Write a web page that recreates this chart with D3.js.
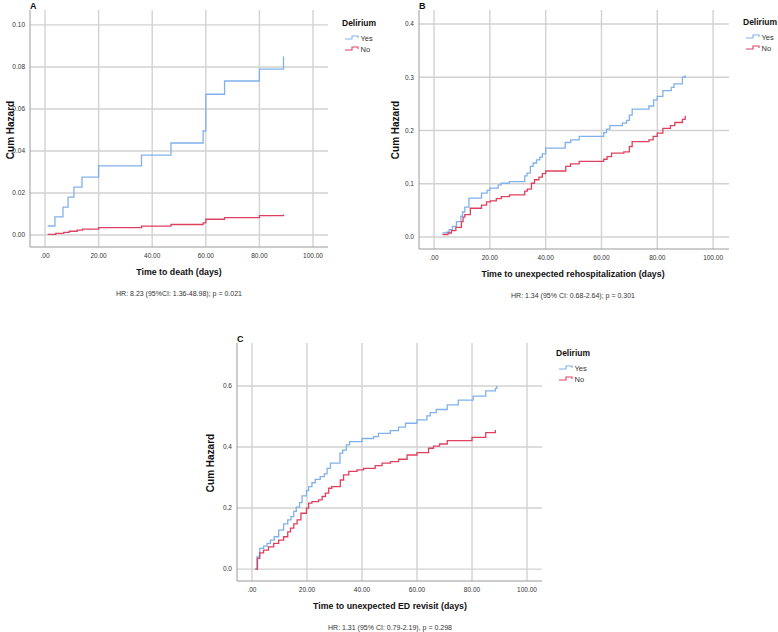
<!DOCTYPE html>
<html>
<head>
<meta charset="utf-8">
<script src="https://cdn.jsdelivr.net/npm/d3@7"></script>
<style>
  body { margin: 0; background: #fff; }
  svg { font-family: "Liberation Sans", Arial, sans-serif; }
  .grid line { stroke: #d2d2d2; stroke-width: 1.4; }
  .axisline { stroke: #9a9a9a; stroke-width: 1; }
  .tick-label { font-size: 6.5px; fill: #333; }
  .y-title { font-size: 10px; font-weight: bold; fill: #111; }
  .axis-title { font-size: 8.8px; font-weight: bold; fill: #111; }
  .caption { font-size: 7px; fill: #333; }
  .letter { font-size: 9px; font-weight: bold; fill: #111; }
  .leg-title { font-size: 8.5px; font-weight: bold; fill: #111; }
  .leg-item { font-size: 7.5px; fill: #333; }
</style>
</head>
<body>
<svg id="chart" width="778" height="632"></svg>
<script>
(function() {

  // Series colours.
  var yesColour = "#80b1ea";
  var noColour = "#e0405f";

  var groups = ["Yes", "No"];

  // Panel A: time to death.
  var aYesDays = [1, 3.7, 6.7, 8.6, 10.8, 13.8, 20, 36, 47, 59, 60, 67, 80, 89];
  var aYesHaz  = [0.0043, 0.0086, 0.0133, 0.018, 0.0228, 0.0276, 0.0329, 0.038, 0.0438, 0.0495, 0.067, 0.0733, 0.079, 0.085];
  var aNoDays  = [1, 4, 7, 9, 12, 14, 20, 36, 47, 59, 60, 67, 80, 89];
  var aNoHaz   = [0.0003, 0.0008, 0.0013, 0.0018, 0.0023, 0.0028, 0.0035, 0.0042, 0.005, 0.0058, 0.0075, 0.0083, 0.0092, 0.0098];
  var aYTicks  = [0, 0.02, 0.04, 0.06, 0.08, 0.10];

  // Panel B: unexpected rehospitalization.
  var bYesDays = [3, 4.4, 5.4, 6.6, 8, 9.6, 10.2, 11, 12.5, 17, 19, 20, 23, 24, 27, 32.5, 33.3, 34.5, 35.5, 36.7, 37.9, 38.8, 40, 47, 49, 52, 60.8, 61.8, 63, 67.5, 69, 70, 71, 77, 78.7, 80, 82, 85, 86, 89, 90];
  var bYesHaz  = [0.0075, 0.009, 0.014, 0.02, 0.029, 0.039, 0.047, 0.056, 0.073, 0.0825, 0.0875, 0.092, 0.098, 0.101, 0.104, 0.115, 0.12, 0.1325, 0.139, 0.145, 0.15, 0.156, 0.167, 0.1775, 0.1825, 0.189, 0.196, 0.2025, 0.209, 0.214, 0.219, 0.229, 0.24, 0.246, 0.2575, 0.264, 0.275, 0.281, 0.2875, 0.3, 0.304];
  var bNoDays  = [3, 5, 6.2, 7.8, 9.8, 10.4, 11, 13, 17, 18.8, 20.2, 22.3, 24.1, 27, 32.5, 33.4, 34.9, 36, 37.6, 38.8, 40, 47.2, 48.9, 52, 60.8, 62, 63.6, 68, 70, 71, 77, 78.5, 80, 82, 84.7, 86.3, 89, 90];
  var bNoHaz   = [0.0044, 0.0075, 0.012, 0.018, 0.029, 0.0375, 0.042, 0.054, 0.06, 0.066, 0.068, 0.072, 0.076, 0.079, 0.086, 0.09, 0.101, 0.1075, 0.1125, 0.119, 0.124, 0.1325, 0.1375, 0.142, 0.146, 0.151, 0.1575, 0.16, 0.17, 0.179, 0.1825, 0.189, 0.195, 0.204, 0.209, 0.215, 0.221, 0.2275];
  var bYTicks  = [0, 0.1, 0.2, 0.3, 0.4];

  // Panel C: unexpected ED revisit.
  var cYesDays = [1.2, 1.8, 2.8, 4.2, 5.5, 6.7, 8.1, 9.7, 11.5, 13, 14.2, 15.2, 16.1, 17.3, 18.2, 19.8, 20.6, 21.8, 23, 24.8, 26.3, 27.3, 28.5, 32, 33, 34.3, 35.5, 40, 44.2, 46, 50.3, 53.3, 55.8, 60, 63.6, 64.8, 67, 71, 75, 80.4, 85, 88.5, 89];
  var cYesHaz  = [0, 0.04, 0.068, 0.075, 0.084, 0.095, 0.106, 0.128, 0.148, 0.161, 0.172, 0.189, 0.203, 0.218, 0.24, 0.257, 0.27, 0.283, 0.294, 0.303, 0.312, 0.33, 0.347, 0.38, 0.39, 0.407, 0.418, 0.428, 0.434, 0.445, 0.454, 0.465, 0.478, 0.489, 0.502, 0.513, 0.523, 0.538, 0.554, 0.567, 0.584, 0.592, 0.6];
  var cNoDays  = [1.2, 2, 2.8, 4.2, 6, 7.9, 9.7, 11.5, 13, 14, 15.2, 16.4, 17.8, 19.8, 20.6, 21.8, 24.2, 25.5, 26.7, 27.9, 29, 32.1, 33.3, 35.2, 38.2, 40.6, 44.8, 47.3, 50.3, 53.3, 56.4, 60, 64.2, 66, 68.2, 71, 80, 85, 88.5];
  var cNoHaz   = [0, 0.035, 0.053, 0.062, 0.073, 0.084, 0.095, 0.106, 0.122, 0.134, 0.148, 0.161, 0.183, 0.2, 0.216, 0.221, 0.227, 0.238, 0.249, 0.265, 0.27, 0.292, 0.309, 0.32, 0.325, 0.33, 0.339, 0.347, 0.352, 0.36, 0.374, 0.382, 0.396, 0.403, 0.41, 0.421, 0.432, 0.447, 0.456];
  var cYTicks  = [0, 0.2, 0.4, 0.6];

  var xTicks = [0, 20, 40, 60, 80, 100];

  function zip(days, haz) {
    return days.map(function(d, i) { return [d, haz[i]]; });
  }

  var svg = d3.select("#chart");

  function fmtX(d) { return d === 0 ? ".00" : d3.format(".2f")(d); }

  function drawPanel(p) {
    var x = d3.scaleLinear().domain(p.xDomain).range([p.left, p.right]);
    var y = d3.scaleLinear().domain(p.yDomain).range([p.bottom, p.top]);
    var g = svg.append("g");

    // Grid lines.
    var grid = g.append("g").attr("class", "grid");
    grid.selectAll(".vx").data(xTicks).enter().append("line")
      .attr("x1", function(d) { return x(d); })
      .attr("x2", function(d) { return x(d); })
      .attr("y1", p.top).attr("y2", p.bottom);
    grid.selectAll(".hy").data(p.yTicks).enter().append("line")
      .attr("x1", p.left).attr("x2", p.right)
      .attr("y1", function(d) { return y(d); })
      .attr("y2", function(d) { return y(d); });

    // Axis lines.
    g.append("line").attr("class", "axisline")
      .attr("x1", p.left).attr("x2", p.left).attr("y1", p.top).attr("y2", p.bottom);
    g.append("line").attr("class", "axisline")
      .attr("x1", p.left).attr("x2", p.right).attr("y1", p.bottom).attr("y2", p.bottom);

    // Tick labels.
    g.selectAll(".xt").data(xTicks).enter().append("text")
      .attr("class", "tick-label")
      .attr("x", function(d) { return x(d); })
      .attr("y", p.bottom + 11)
      .attr("text-anchor", "middle")
      .text(fmtX);
    g.selectAll(".yt").data(p.yTicks).enter().append("text")
      .attr("class", "tick-label")
      .attr("x", p.left - 5)
      .attr("y", function(d) { return y(d) + 2.3; })
      .attr("text-anchor", "end")
      .text(function(d) { return d3.format(p.yFormat)(d); });

    // Step curves.
    var line = d3.line()
      .x(function(d) { return x(d[0]); })
      .y(function(d) { return y(d[1]); })
      .curve(d3.curveStepAfter);
    g.selectAll(".curve").data(p.series).enter().append("path")
      .attr("fill", "none")
      .attr("stroke", function(d) { return d.colour; })
      .attr("stroke-width", 1.3)
      .attr("d", function(d) { return line(d.values); });

    // Titles.
    g.append("text").attr("class", "letter")
      .attr("x", p.left).attr("y", p.top - 1).text(p.letter);
    g.append("text").attr("class", "y-title")
      .attr("transform", "translate(" + (p.left - p.yTitleOffset) + "," + p.yTitleY + ") rotate(-90)")
      .attr("text-anchor", "middle")
      .text("Cum Hazard");
    g.append("text").attr("class", "axis-title")
      .attr("x", p.titleX).attr("y", p.bottom + 28)
      .attr("text-anchor", "middle")
      .text(p.xTitle);
    g.append("text").attr("class", "caption")
      .attr("x", p.titleX).attr("y", p.bottom + 49)
      .attr("text-anchor", "middle")
      .text(p.caption);

    // Legend.
    var lg = g.append("g").attr("transform", "translate(" + p.legX + "," + p.legY + ")");
    lg.append("text").attr("class", "leg-title").attr("x", 0).attr("y", 0).text("Delirium");
    var items = lg.selectAll(".li").data(p.series).enter().append("g")
      .attr("transform", function(d, i) { return "translate(3," + (13 + i * 11) + ")"; });
    items.append("path")
      .attr("fill", "none")
      .attr("stroke", function(d) { return d.colour; })
      .attr("stroke-width", 1.1)
      .attr("d", "M0,0H7V-3H13V-1");
    items.append("text").attr("class", "leg-item")
      .attr("x", 15.5).attr("y", 1.5)
      .text(function(d) { return d.name; });
  }

  drawPanel({
    letter: "A", left: 30, right: 328, top: 10, bottom: 247,
    xDomain: [-5.6, 105.6], yDomain: [-0.0057, 0.1071],
    yTicks: aYTicks, yFormat: ".2f",
    yTitleOffset: 16, yTitleY: 130,
    xTitle: "Time to death (days)", titleX: 179,
    caption: "HR: 8.23 (95%CI: 1.36-48.98); p = 0.021",
    legX: 342, legY: 26,
    series: [
      { name: groups[0], colour: yesColour, values: zip(aYesDays, aYesHaz) },
      { name: groups[1], colour: noColour, values: zip(aNoDays, aNoHaz) }
    ]
  });

  drawPanel({
    letter: "B", left: 419, right: 729, top: 10, bottom: 249,
    xDomain: [-5.4, 105.7], yDomain: [-0.0225, 0.4263],
    yTicks: bYTicks, yFormat: ".1f",
    yTitleOffset: 20, yTitleY: 130,
    xTitle: "Time to unexpected rehospitalization (days)", titleX: 573,
    caption: "HR: 1.34 (95% CI: 0.68-2.64); p = 0.301",
    legX: 743, legY: 25,
    series: [
      { name: groups[0], colour: yesColour, values: zip(bYesDays, bYesHaz) },
      { name: groups[1], colour: noColour, values: zip(bNoDays, bNoHaz) }
    ]
  });

  drawPanel({
    letter: "C", left: 237, right: 542, top: 343, bottom: 581,
    xDomain: [-5.45, 105.45], yDomain: [-0.039, 0.741],
    yTicks: cYTicks, yFormat: ".1f",
    yTitleOffset: 23, yTitleY: 463,
    xTitle: "Time to unexpected ED revisit (days)", titleX: 390,
    caption: "HR: 1.31 (95% CI: 0.79-2.19), p = 0.298",
    legX: 556, legY: 356,
    series: [
      { name: groups[0], colour: yesColour, values: zip(cYesDays, cYesHaz) },
      { name: groups[1], colour: noColour, values: zip(cNoDays, cNoHaz) }
    ]
  });

})();
</script>
</body>
</html>
